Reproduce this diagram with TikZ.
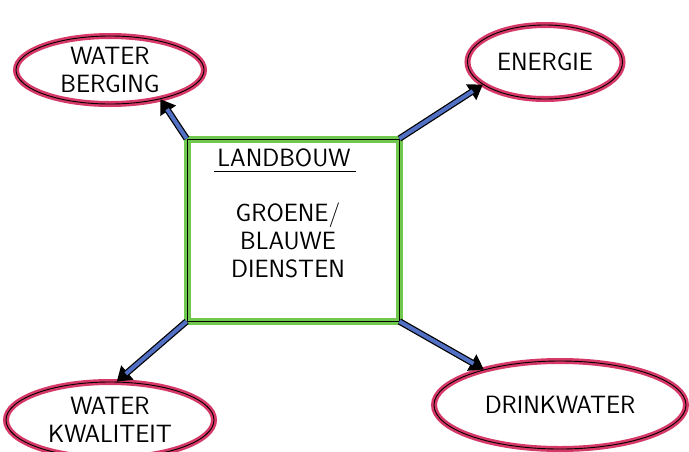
\documentclass[tikz,border=0pt]{standalone}
\usepackage{tikz}
\usepackage{xcolor}
\usetikzlibrary{shapes,arrows.meta,calc}
\definecolor{rozerand}{RGB}{214,56,104}
\definecolor{groenrand}{RGB}{112,200,78}
\definecolor{blauwpijl}{RGB}{82,112,196}
\tikzset{
doel/.style={ellipse,draw=black,line width=0.9pt,inner sep=0pt,align=center,
  preaction={draw=rozerand,line width=6pt},font=\sffamily\fontsize{25}{28}\selectfont},
kern/.style={rectangle,draw=black,line width=0.9pt,inner sep=0pt,
  preaction={draw=groenrand,line width=7pt},minimum width=212pt,minimum height=182pt},
tekst/.style={align=center,font=\sffamily\fontsize{25}{28}\selectfont},
pijl/.style={black,line width=6.5pt,-{Triangle[length=14pt,width=18pt]},
  postaction={draw=blauwpijl,line width=4pt,-,shorten >=12pt}}
}
\begin{document}
\begin{tikzpicture}[x=1pt,y=-1pt]
\useasboundingbox[fill=white](0,0)rectangle(689,451);
\node[kern](landbouw)at(293,230){};
\node[tekst](titel)at(284,158){LANDBOUW};
\draw[line width=1.2pt]($(titel.south west)+(0,1)$)--($(titel.south east)+(2,1)$);
\node[tekst](diensten)at(288,240){GROENE/\\BLAUWE\\DIENSTEN};
\node[doel,minimum width=188pt,minimum height=68pt](berging)at(110,70){WATER\\BERGING};
\node[doel,minimum width=155pt,minimum height=74pt](energie)at(545,62){ENERGIE};
\node[doel,minimum width=208pt,minimum height=76pt](kwaliteit)at(110,420){WATER\\KWALITEIT};
\node[doel,minimum width=252pt,minimum height=88pt](drinkwater)at(560,405){DRINKWATER};
\draw[pijl](landbouw.north west)--(berging.330);
\draw[pijl](landbouw.north east)--(energie.200);
\draw[pijl](landbouw.south west)--(kwaliteit.80);
\draw[pijl](landbouw.south east)--(drinkwater.155);
\end{tikzpicture}
\end{document}
